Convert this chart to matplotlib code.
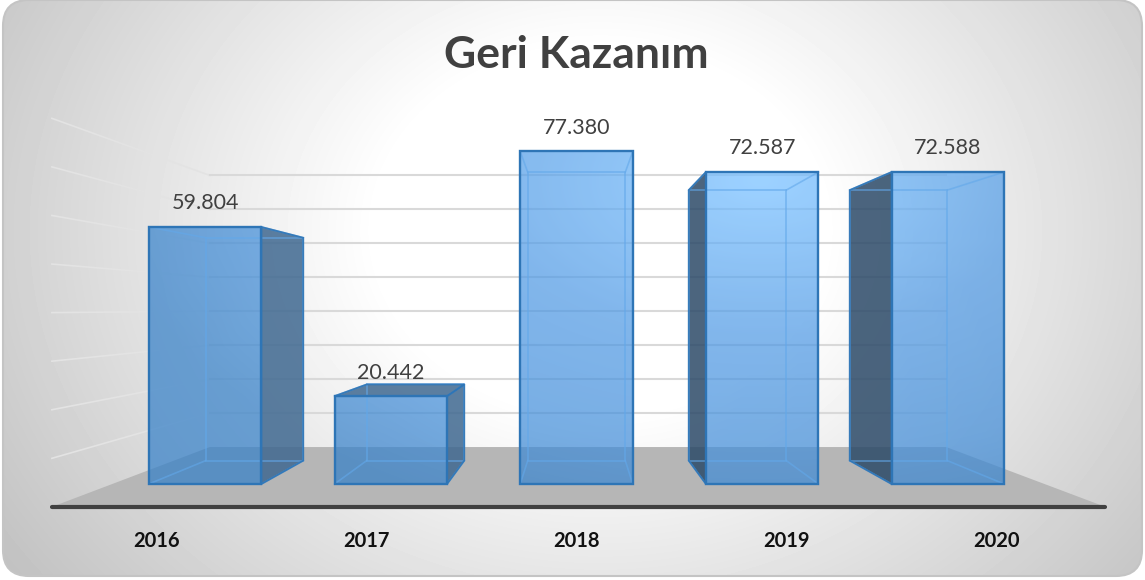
import numpy as np
import matplotlib
matplotlib.use("Agg")
import matplotlib.pyplot as plt
from matplotlib.patches import FancyBboxPatch, Polygon
from matplotlib.transforms import ScaledTranslation

years = ["2016", "2017", "2018", "2019", "2020"]
values = [59804, 20442, 77380, 72587, 72588]
grid_ticks = [0, 10000, 20000, 30000, 40000, 50000, 60000, 70000, 80000]
title = "Geri Kazanım"

side_colors = ["#3F6890", "#3F6890", "#3F6890", "#2C4A68", "#2C4A68"]

plt.rcParams["font.family"] = ["Lato", "DejaVu Sans"]

W, H = 1145, 580
fig = plt.figure(figsize=(W / 100, H / 100), dpi=100, facecolor="white")

# background in pixels
bg = fig.add_axes([0, 0, 1, 1])
bg.set_xlim(0, W)
bg.set_ylim(H, 0)
bg.axis("off")
yy, xx = np.mgrid[0:H, 0:W]
dist = np.sqrt(((xx - 600) / 640.0) ** 2 + ((yy - 230) / 520.0) ** 2)
shade = np.clip(1.0 - 0.31 * np.clip(dist - 0.35, 0, None), 0, 1)
im = bg.imshow(shade, cmap="gray", vmin=0, vmax=1, extent=(0, W, H, 0), aspect="auto", zorder=0)
box = FancyBboxPatch((3, 0), W - 6, 576, boxstyle="round,pad=0,rounding_size=26", fc="none", ec="#C4C4C4", lw=1.5, zorder=1)
bg.add_patch(box)
im.set_clip_path(box)
bg.text(576, 55, title, ha="center", va="center", fontsize=32, fontweight="bold", color="#404040")

# main axes, category index and value
ax = fig.add_axes([0, 0, 1, 1], facecolor="none")
px_x = 185.7
px_v = 0.004298
xlim = (-205.1 / px_x, (W - 205.1) / px_x)
ylim = ((484 - H) / px_v, 484 / px_v)
ax.set_xlim(xlim)
ax.set_ylim(ylim)
ax.set_autoscale_on(False)
ax.axis("off")

vp_x, vp_v = 2, 40950
s_bar = 0.867
s_wall = 0.79
s_front = 1.13
half = 0.303

# fill of the bars: lit from top right of the middle, see-through
alpha = 0.72
d = np.sqrt((xx - 760.0) ** 2 + (1.8 * (yy - 180.0)) ** 2)
stops_d = [0, 280, 500, 650]
stops_rgb = [(155, 208, 255), (127, 180, 234), (118, 172, 226), (108, 162, 214)]
fill = np.zeros((H, W, 4))
for c in range(3):
    target = np.interp(d, stops_d, [s[c] for s in stops_rgb])
    fill[:, :, c] = np.clip((target - (1 - alpha) * 248) / alpha / 255.0, 0, 1)
fill[:, :, 3] = alpha


def project(x, v, s):
    return (vp_x + s * (x - vp_x), vp_v + s * (v - vp_v))


x0, x1 = -0.5, 4.52
# floor
ax.add_patch(Polygon([project(x0, 0, s_front), project(x0, 0, s_wall), project(x1, 0, s_wall), project(x1, 0, s_front)],
                     fc="#B6B6B6", ec="none", zorder=1))
# grid lines on back wall and left wall
for t in grid_ticks[1:]:
    pts = [project(x0, t, s_front), project(x0, t, s_wall), project(x1, t, s_wall)]
    ax.plot([pts[0][0], pts[1][0]], [pts[0][1], pts[1][1]], color="#E3E3E3", lw=1.2, zorder=1)
    ax.plot([pts[1][0], pts[2][0]], [pts[1][1], pts[2][1]], color="#D9D9D9", lw=1.5, zorder=1)
# axis line
a = project(x0, 0, s_front)
b = project(x1, 0, s_front)
ax.plot([a[0], b[0]], [a[1], b[1]], color="#404040", lw=3, solid_capstyle="round", zorder=2)

year_shift = ScaledTranslation(0, -34 / 100, fig.dpi_scale_trans)
for i, (year, v) in enumerate(zip(years, values)):
    l, r = i - half, i + half
    fr = [(l, 0), (r, 0), (r, v), (l, v)]
    bk = [project(p[0], p[1], s_bar) for p in fr]
    # dark face on the side of the vanishing point
    dark = []
    if i < vp_x:
        dark.append([fr[1], bk[1], bk[2], fr[2]])
    if i > vp_x:
        dark.append([fr[0], bk[0], bk[3], fr[3]])
    if v < vp_v:
        dark.append([fr[3], fr[2], bk[2], bk[3]])
    for face in dark:
        ax.add_patch(Polygon(face, fc=side_colors[i], alpha=0.85, ec="none", zorder=3))
    # front face
    face_im = ax.imshow(fill, extent=(xlim[0], xlim[1], ylim[0], ylim[1]), aspect="auto", zorder=4)
    clip = Polygon(fr, transform=ax.transData, fc="none", ec="none")
    ax.add_patch(clip)
    face_im.set_clip_path(clip)
    # back edges and diagonals, faint
    ax.add_patch(Polygon(bk, fc="none", ec="#62A8EA", lw=1.3, alpha=0.6, zorder=5))
    for p, q in zip(fr, bk):
        ax.plot([p[0], q[0]], [p[1], q[1]], color="#62A8EA", lw=1.2, alpha=0.6, zorder=5)
    # darker outer edges
    for face in dark:
        ax.add_patch(Polygon(face, fc="none", ec="#2E75B6", lw=1.3, alpha=0.9, zorder=5))
    ax.add_patch(Polygon(fr, fc="none", ec="#2E75B6", lw=1.7, zorder=6))
    # labels
    ax.annotate(f"{v:,}".replace(",", "."), (i, v), xytext=(0, 17), textcoords="offset points",
                ha="center", va="center", fontsize=15.5, color="#404040", zorder=7)
    pos = project(i, 0, s_front)
    ax.text(pos[0], pos[1], year, ha="center", va="center", fontsize=14.5, fontweight="bold",
            color="#111111", transform=ax.transData + year_shift, zorder=7)

ax.set_xlim(xlim)
ax.set_ylim(ylim)
fig.savefig("out.png", dpi=100)
